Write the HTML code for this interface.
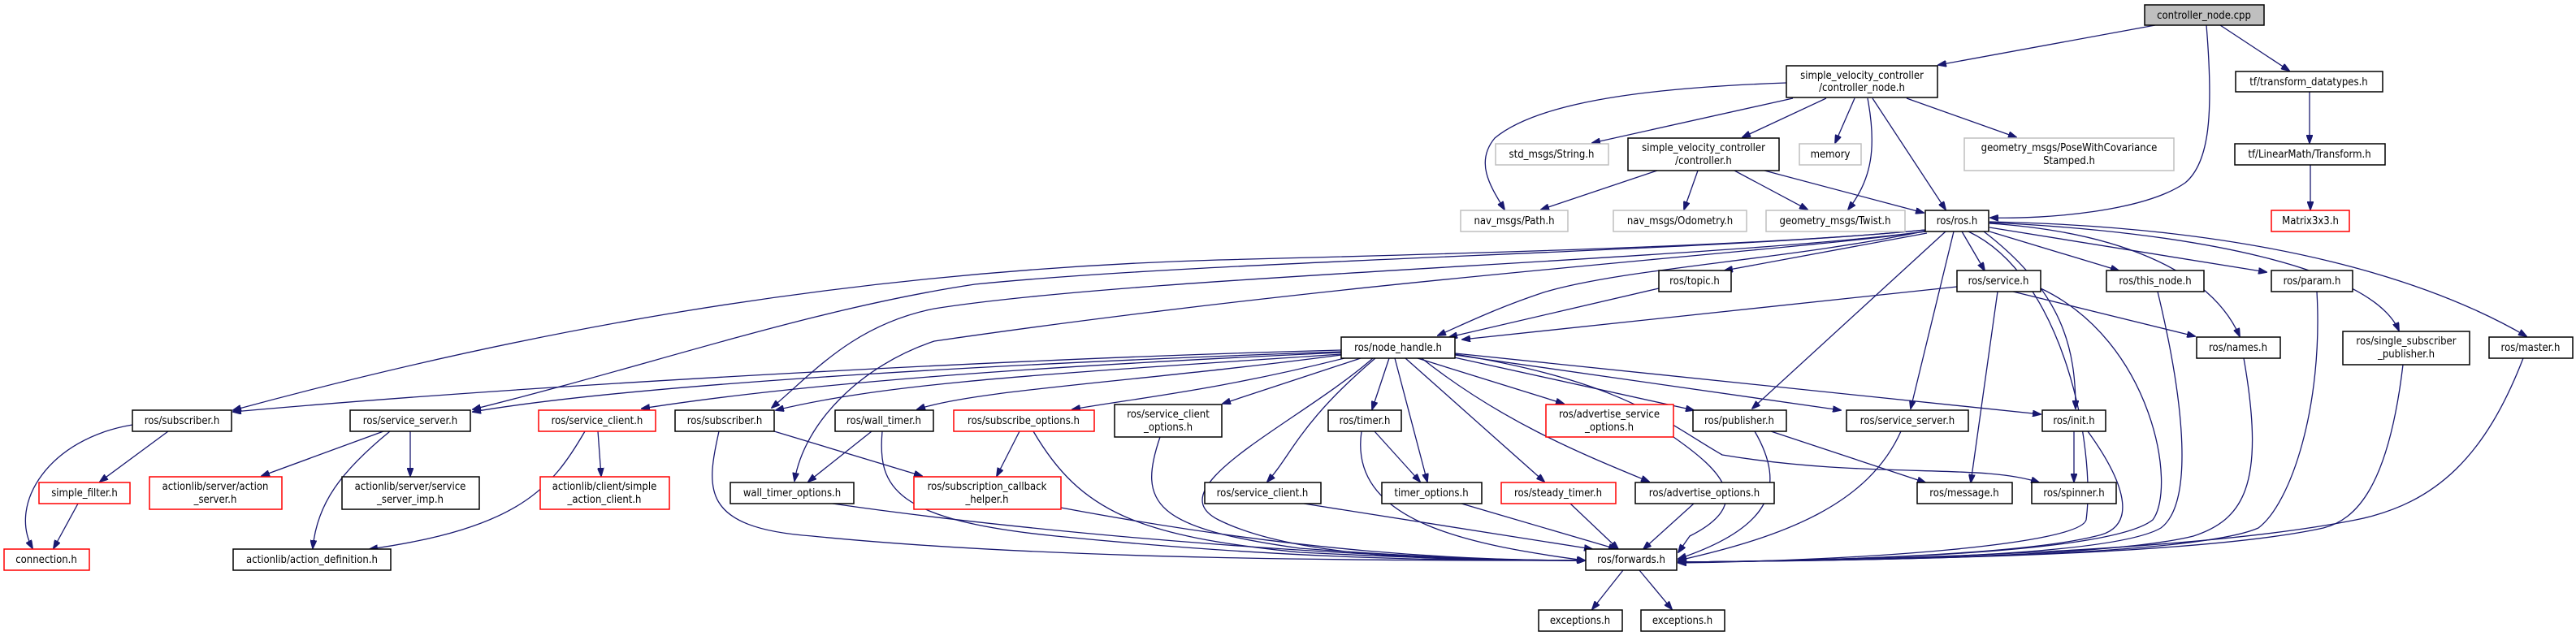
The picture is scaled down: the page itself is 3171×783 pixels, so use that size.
<!DOCTYPE html>
<html><head><meta charset="utf-8"><style>
html,body{margin:0;padding:0;background:#fff;}
svg{display:block;}
text{font-family:"DejaVu Sans Condensed","Liberation Sans",sans-serif;font-size:13px;fill:#000;text-anchor:middle;}
.b{fill:#fff;stroke:#000;stroke-width:1.5;}
.g{fill:#fff;stroke:#bfbfbf;stroke-width:1.5;}
.r{fill:#fff;stroke:#ff0000;stroke-width:1.5;}
.e path{fill:none;stroke:#191970;stroke-width:1.3;marker-end:url(#a);}
</style></head><body>
<svg width="3171" height="783" viewBox="0 0 3171 783" xmlns="http://www.w3.org/2000/svg">
<defs><marker id="a" markerWidth="11" markerHeight="8" refX="10" refY="4" orient="auto" markerUnits="userSpaceOnUse"><path d="M0,0 L11,4 L0,8 z" fill="#191970" stroke="#191970"/></marker></defs>
<g class="e">
<path d="M2653,31 L2386,80"/>
<path d="M2716,31 C2725,140 2720,200 2690,225 C2640,260 2520,270 2450,268"/>
<path d="M2733,31 L2818,87"/>
<path d="M2843,113 L2843,176"/>
<path d="M2844,203 L2844,258"/>
<path d="M2199,102 C2060,107 1900,120 1840,170 C1815,200 1835,230 1852,258"/>
<path d="M2207,121 L1960,176"/>
<path d="M2248,121 L2145,169"/>
<path d="M2283,121 L2259,176"/>
<path d="M2299,121 C2310,180 2305,220 2275,258"/>
<path d="M2305,121 L2395,258"/>
<path d="M2347,121 L2482,169"/>
<path d="M2040,210 L1897,258"/>
<path d="M2090,210 L2073,258"/>
<path d="M2135,210 L2225,258"/>
<path d="M2172,210 L2368,262"/>
<path d="M2370,283 C2200,300 1900,310 1500,320 C1000,335 600,420 287,505"/>
<path d="M2370,283 C2100,310 1500,320 1200,350 C1000,380 800,450 582,504"/>
<path d="M2370,285 C2100,320 1400,340 1150,380 C1050,400 1000,460 950,502"/>
<path d="M2370,285 C2200,310 1700,340 1150,420 C1060,450 990,520 978,592"/>
<path d="M2372,284 C2200,320 2000,330 1900,360 C1840,380 1800,400 1770,413"/>
<path d="M2372,287 L2123,333"/>
<path d="M2415,285 L2443,333"/>
<path d="M2449,285 L2608,333"/>
<path d="M2449,280 L2790,335"/>
<path d="M2449,275 C2600,285 2720,330 2757,414"/>
<path d="M2449,274 C2700,285 2920,330 2953,407"/>
<path d="M2449,273 C2800,280 3000,350 3110,414"/>
<path d="M2395,285 L2157,503"/>
<path d="M2405,285 L2352,503"/>
<path d="M2442,285 C2540,360 2555,430 2555,503"/>
<path d="M2423,285 C2540,340 2580,550 2568,640 C2560,670 2300,690 2066,693"/>
<path d="M2042,355 L1784,415"/>
<path d="M2409,353 L1800,418"/>
<path d="M2459,359 L2426,594"/>
<path d="M2478,359 L2702,414"/>
<path d="M2512,355 C2650,420 2680,600 2650,640 C2600,680 2300,690 2066,692"/>
<path d="M2656,359 C2690,500 2700,620 2660,650 C2600,685 2300,690 2066,692"/>
<path d="M2852,359 C2860,500 2820,620 2780,650 C2700,685 2300,690 2066,692"/>
<path d="M2762,441 C2790,600 2760,640 2700,660 C2600,685 2300,690 2066,692"/>
<path d="M2958,449 C2940,600 2900,640 2860,650 C2700,685 2300,690 2066,692"/>
<path d="M3106,441 C3060,560 3000,620 2900,640 C2700,680 2300,690 2066,692"/>
<path d="M1651,431 C1300,440 700,470 287,507"/>
<path d="M1651,433 C1300,445 800,470 582,507"/>
<path d="M1651,434 C1300,450 1000,470 790,503"/>
<path d="M1651,436 C1300,460 1100,470 955,505"/>
<path d="M1651,437 C1400,470 1200,480 1129,504"/>
<path d="M1655,441 C1500,480 1400,490 1320,504"/>
<path d="M1675,441 L1505,497"/>
<path d="M1693,441 C1600,520 1590,560 1560,593"/>
<path d="M1690,441 C1600,520 1420,600 1500,640 C1600,690 1800,690 1951,690"/>
<path d="M1710,441 L1689,504"/>
<path d="M1717,441 L1757,593"/>
<path d="M1730,441 L1901,593"/>
<path d="M1745,441 L1925,497"/>
<path d="M1750,441 C1850,520 1950,560 2030,593"/>
<path d="M1790,440 L2085,505"/>
<path d="M1791,437 L2266,505"/>
<path d="M1791,435 L2512,510"/>
<path d="M1791,436 C2000,470 2050,520 2120,560 C2300,590 2440,570 2510,594"/>
<path d="M163,523 C60,540 10,620 40,675"/>
<path d="M207,531 L123,593"/>
<path d="M96,620 L66,675"/>
<path d="M472,531 L322,586"/>
<path d="M480,531 C420,580 390,620 385,675"/>
<path d="M505,531 L505,586"/>
<path d="M720,531 C680,600 640,650 455,676"/>
<path d="M736,531 L740,586"/>
<path d="M885,531 C870,600 860,650 1000,660 C1300,690 1700,690 1951,690"/>
<path d="M953,531 L1135,586"/>
<path d="M1073,531 L995,593"/>
<path d="M1086,531 C1080,600 1100,640 1300,660 C1600,690 1800,690 1951,690"/>
<path d="M1255,531 L1227,586"/>
<path d="M1272,531 C1330,630 1400,660 1600,680 C1800,690 1900,690 1951,690"/>
<path d="M1025,620 C1300,660 1700,690 1951,690"/>
<path d="M1306,625 C1600,680 1800,690 1951,690"/>
<path d="M1428,538 C1400,620 1420,650 1600,675 C1800,690 1900,690 1951,690"/>
<path d="M1605,620 L1960,676"/>
<path d="M1676,531 C1660,640 1800,670 1951,690"/>
<path d="M1692,531 L1748,593"/>
<path d="M1799,620 L1990,676"/>
<path d="M1933,620 L1992,676"/>
<path d="M2085,620 L2023,676"/>
<path d="M2060,538 C2120,580 2160,620 2080,660 L2066,680"/>
<path d="M2160,531 C2200,600 2180,650 2066,688"/>
<path d="M2340,531 C2300,620 2200,660 2066,690"/>
<path d="M2180,531 L2370,594"/>
<path d="M2553,531 L2553,593"/>
<path d="M2570,531 C2620,600 2630,650 2580,660 C2500,680 2300,690 2066,692"/>
<path d="M1998,702 L1960,750"/>
<path d="M2018,702 L2058,750"/>
</g>
<rect x="2640" y="6" width="147" height="25" fill="#bfbfbf" stroke="#000" stroke-width="1.5"/><text x="2713" y="23">controller_node.cpp</text>
<rect class="b" x="2199" y="81" width="186" height="39"/><text x="2292" y="97">simple_velocity_controller</text><text x="2292" y="112">/controller_node.h</text>
<rect class="b" x="2752" y="88" width="181" height="25"/><text x="2842" y="105">tf/transform_datatypes.h</text>
<rect class="b" x="2004" y="170" width="186" height="40"/><text x="2097" y="186">simple_velocity_controller</text><text x="2097" y="202">/controller.h</text>
<rect class="g" x="2215" y="177" width="76" height="26"/><text x="2253" y="194">memory</text>
<rect class="g" x="2418" y="170" width="258" height="40"/><text x="2547" y="186">geometry_msgs/PoseWithCovariance</text><text x="2547" y="202">Stamped.h</text>
<rect class="b" x="2751" y="177" width="185" height="26"/><text x="2843" y="194">tf/LinearMath/Transform.h</text>
<rect class="g" x="1841" y="177" width="139" height="26"/><text x="1910" y="194">std_msgs/String.h</text>
<rect class="g" x="1798" y="259" width="132" height="26"/><text x="1864" y="276">nav_msgs/Path.h</text>
<rect class="g" x="1986" y="259" width="164" height="26"/><text x="2068" y="276">nav_msgs/Odometry.h</text>
<rect class="g" x="2174" y="259" width="171" height="26"/><text x="2259" y="276">geometry_msgs/Twist.h</text>
<rect class="b" x="2370" y="259" width="78" height="26"/><text x="2409" y="276">ros/ros.h</text>
<rect class="r" x="2796" y="259" width="96" height="26"/><text x="2844" y="276">Matrix3x3.h</text>
<rect class="b" x="2042" y="333" width="89" height="26"/><text x="2086" y="350">ros/topic.h</text>
<rect class="b" x="2409" y="333" width="103" height="26"/><text x="2460" y="350">ros/service.h</text>
<rect class="b" x="2593" y="333" width="120" height="26"/><text x="2653" y="350">ros/this_node.h</text>
<rect class="b" x="2796" y="333" width="100" height="26"/><text x="2846" y="350">ros/param.h</text>
<rect class="b" x="1651" y="415" width="140" height="26"/><text x="1721" y="432">ros/node_handle.h</text>
<rect class="b" x="2704" y="415" width="103" height="26"/><text x="2755" y="432">ros/names.h</text>
<rect class="b" x="2884" y="408" width="156" height="41"/><text x="2962" y="424">ros/single_subscriber</text><text x="2962" y="440">_publisher.h</text>
<rect class="b" x="3064" y="415" width="103" height="26"/><text x="3115" y="432">ros/master.h</text>
<rect class="b" x="163" y="505" width="122" height="26"/><text x="224" y="522">ros/subscriber.h</text>
<rect class="b" x="431" y="505" width="148" height="26"/><text x="505" y="522">ros/service_server.h</text>
<rect class="r" x="663" y="505" width="144" height="26"/><text x="735" y="522">ros/service_client.h</text>
<rect class="b" x="831" y="505" width="122" height="26"/><text x="892" y="522">ros/subscriber.h</text>
<rect class="b" x="1028" y="505" width="121" height="26"/><text x="1088" y="522">ros/wall_timer.h</text>
<rect class="r" x="1174" y="505" width="173" height="26"/><text x="1260" y="522">ros/subscribe_options.h</text>
<rect class="b" x="1372" y="498" width="132" height="40"/><text x="1438" y="514">ros/service_client</text><text x="1438" y="530">_options.h</text>
<rect class="b" x="1635" y="505" width="90" height="26"/><text x="1680" y="522">ros/timer.h</text>
<rect class="r" x="1903" y="498" width="157" height="40"/><text x="1981" y="514">ros/advertise_service</text><text x="1981" y="530">_options.h</text>
<rect class="b" x="2084" y="505" width="115" height="26"/><text x="2141" y="522">ros/publisher.h</text>
<rect class="b" x="2273" y="505" width="150" height="26"/><text x="2348" y="522">ros/service_server.h</text>
<rect class="b" x="2514" y="505" width="78" height="26"/><text x="2553" y="522">ros/init.h</text>
<rect class="r" x="48" y="594" width="112" height="26"/><text x="104" y="611">simple_filter.h</text>
<rect class="r" x="184" y="587" width="163" height="40"/><text x="265" y="603">actionlib/server/action</text><text x="265" y="619">_server.h</text>
<rect class="b" x="421" y="587" width="169" height="40"/><text x="505" y="603">actionlib/server/service</text><text x="505" y="619">_server_imp.h</text>
<rect class="r" x="665" y="587" width="159" height="40"/><text x="744" y="603">actionlib/client/simple</text><text x="744" y="619">_action_client.h</text>
<rect class="b" x="899" y="594" width="152" height="26"/><text x="975" y="611">wall_timer_options.h</text>
<rect class="r" x="1125" y="587" width="181" height="40"/><text x="1215" y="603">ros/subscription_callback</text><text x="1215" y="619">_helper.h</text>
<rect class="b" x="1483" y="594" width="143" height="26"/><text x="1554" y="611">ros/service_client.h</text>
<rect class="b" x="1701" y="594" width="123" height="26"/><text x="1762" y="611">timer_options.h</text>
<rect class="r" x="1848" y="594" width="141" height="26"/><text x="1918" y="611">ros/steady_timer.h</text>
<rect class="b" x="2013" y="594" width="171" height="26"/><text x="2098" y="611">ros/advertise_options.h</text>
<rect class="b" x="2360" y="594" width="117" height="26"/><text x="2418" y="611">ros/message.h</text>
<rect class="b" x="2501" y="594" width="104" height="26"/><text x="2553" y="611">ros/spinner.h</text>
<rect class="r" x="5" y="676" width="105" height="26"/><text x="57" y="693">connection.h</text>
<rect class="b" x="287" y="676" width="194" height="26"/><text x="384" y="693">actionlib/action_definition.h</text>
<rect class="b" x="1952" y="676" width="112" height="26"/><text x="2008" y="693">ros/forwards.h</text>
<rect class="b" x="1894" y="751" width="103" height="26"/><text x="1945" y="768">exceptions.h</text>
<rect class="b" x="2020" y="751" width="103" height="26"/><text x="2071" y="768">exceptions.h</text>
</svg>
</body></html>
